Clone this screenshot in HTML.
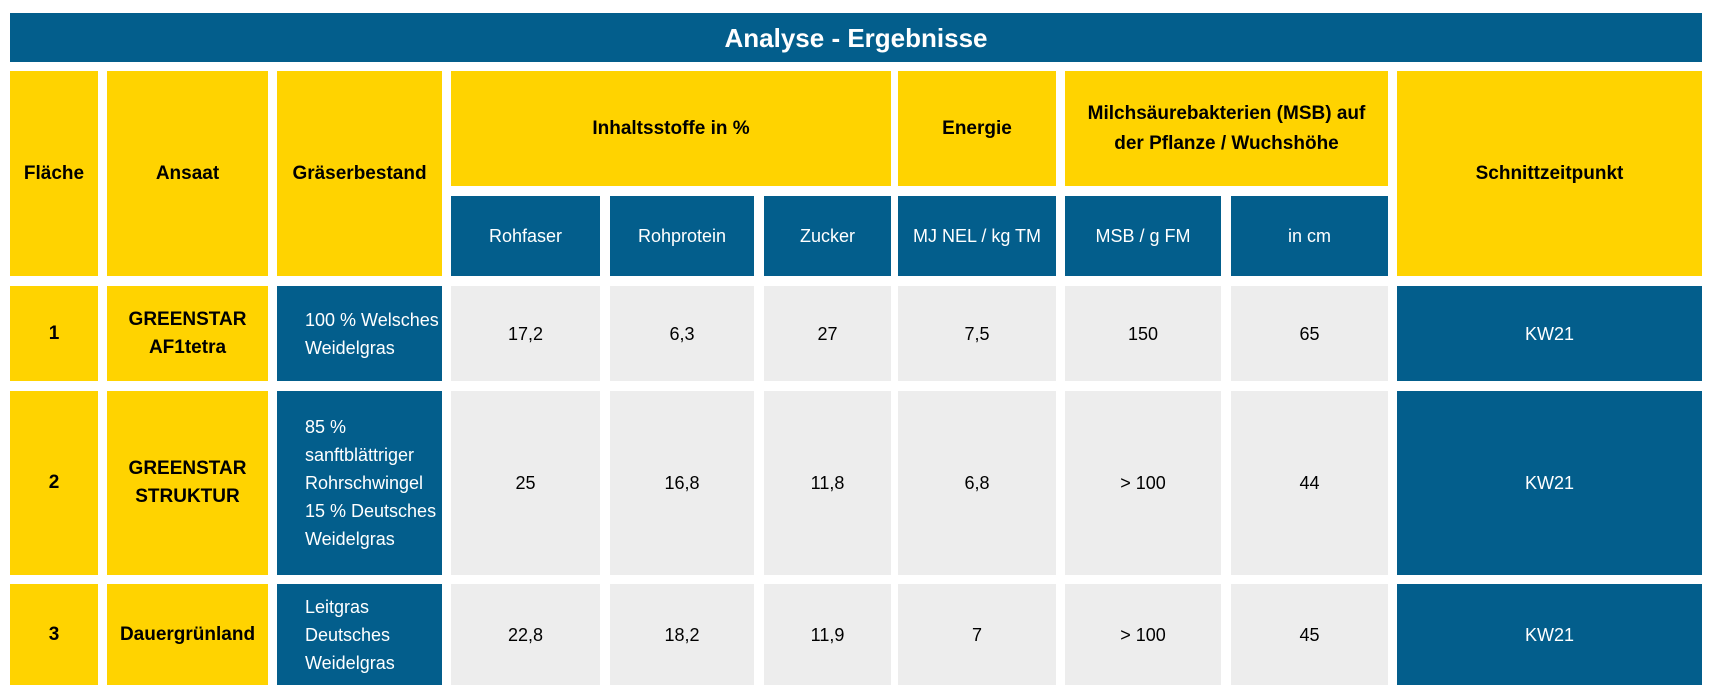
<!DOCTYPE html>
<html><head><meta charset="utf-8"><style>
body{margin:0;width:1714px;height:694px;background:#fff;position:relative;overflow:hidden;font-family:"Liberation Sans",sans-serif;}
.c{position:absolute;display:flex;align-items:center;justify-content:center;text-align:center;font-size:18px;line-height:28px;box-sizing:border-box;}
.b{background:#035E8C;color:#fff;}
.y{background:#FFD300;color:#000;font-weight:bold;font-size:19px;}
.g{background:#EDEDED;color:#000;}
.l{justify-content:flex-start;text-align:left;padding-left:28px;white-space:nowrap;}
</style></head><body>
<div class="c b" style="left:10px;top:13px;width:1692px;height:49px;font-size:26px;font-weight:bold;">Analyse - Ergebnisse</div>

<div class="c y" style="left:10px;top:71px;width:88px;height:205px;">Fläche</div>
<div class="c y" style="left:107px;top:71px;width:161px;height:205px;">Ansaat</div>
<div class="c y" style="left:277px;top:71px;width:165px;height:205px;">Gräserbestand</div>
<div class="c y" style="left:451px;top:71px;width:440px;height:115px;">Inhaltsstoffe in %</div>
<div class="c y" style="left:898px;top:71px;width:158px;height:115px;">Energie</div>
<div class="c y" style="left:1065px;top:71px;width:323px;height:115px;line-height:30px;">Milchsäurebakterien (MSB) auf<br>der Pflanze / Wuchshöhe</div>
<div class="c y" style="left:1397px;top:71px;width:305px;height:205px;">Schnittzeitpunkt</div>

<div class="c b" style="left:451px;top:196px;width:149px;height:80px;">Rohfaser</div>
<div class="c b" style="left:610px;top:196px;width:144px;height:80px;">Rohprotein</div>
<div class="c b" style="left:764px;top:196px;width:127px;height:80px;">Zucker</div>
<div class="c b" style="left:898px;top:196px;width:158px;height:80px;">MJ NEL / kg TM</div>
<div class="c b" style="left:1065px;top:196px;width:156px;height:80px;">MSB / g FM</div>
<div class="c b" style="left:1231px;top:196px;width:157px;height:80px;">in cm</div>

<!-- row 1 -->
<div class="c y" style="left:10px;top:286px;width:88px;height:95px;">1</div>
<div class="c y" style="left:107px;top:286px;width:161px;height:95px;">GREENSTAR<br>AF1tetra</div>
<div class="c b l" style="left:277px;top:286px;width:165px;height:95px;">100 % Welsches<br>Weidelgras</div>
<div class="c g" style="left:451px;top:286px;width:149px;height:95px;">17,2</div>
<div class="c g" style="left:610px;top:286px;width:144px;height:95px;">6,3</div>
<div class="c g" style="left:764px;top:286px;width:127px;height:95px;">27</div>
<div class="c g" style="left:898px;top:286px;width:158px;height:95px;">7,5</div>
<div class="c g" style="left:1065px;top:286px;width:156px;height:95px;">150</div>
<div class="c g" style="left:1231px;top:286px;width:157px;height:95px;">65</div>
<div class="c b" style="left:1397px;top:286px;width:305px;height:95px;">KW21</div>

<!-- row 2 -->
<div class="c y" style="left:10px;top:391px;width:88px;height:184px;">2</div>
<div class="c y" style="left:107px;top:391px;width:161px;height:184px;">GREENSTAR<br>STRUKTUR</div>
<div class="c b l" style="left:277px;top:391px;width:165px;height:184px;">85 %<br>sanftblättriger<br>Rohrschwingel<br>15 % Deutsches<br>Weidelgras</div>
<div class="c g" style="left:451px;top:391px;width:149px;height:184px;">25</div>
<div class="c g" style="left:610px;top:391px;width:144px;height:184px;">16,8</div>
<div class="c g" style="left:764px;top:391px;width:127px;height:184px;">11,8</div>
<div class="c g" style="left:898px;top:391px;width:158px;height:184px;">6,8</div>
<div class="c g" style="left:1065px;top:391px;width:156px;height:184px;">&gt; 100</div>
<div class="c g" style="left:1231px;top:391px;width:157px;height:184px;">44</div>
<div class="c b" style="left:1397px;top:391px;width:305px;height:184px;">KW21</div>

<!-- row 3 -->
<div class="c y" style="left:10px;top:584px;width:88px;height:101px;">3</div>
<div class="c y" style="left:107px;top:584px;width:161px;height:101px;">Dauergrünland</div>
<div class="c b l" style="left:277px;top:584px;width:165px;height:101px;">Leitgras<br>Deutsches<br>Weidelgras</div>
<div class="c g" style="left:451px;top:584px;width:149px;height:101px;">22,8</div>
<div class="c g" style="left:610px;top:584px;width:144px;height:101px;">18,2</div>
<div class="c g" style="left:764px;top:584px;width:127px;height:101px;">11,9</div>
<div class="c g" style="left:898px;top:584px;width:158px;height:101px;">7</div>
<div class="c g" style="left:1065px;top:584px;width:156px;height:101px;">&gt; 100</div>
<div class="c g" style="left:1231px;top:584px;width:157px;height:101px;">45</div>
<div class="c b" style="left:1397px;top:584px;width:305px;height:101px;">KW21</div>
</body></html>
